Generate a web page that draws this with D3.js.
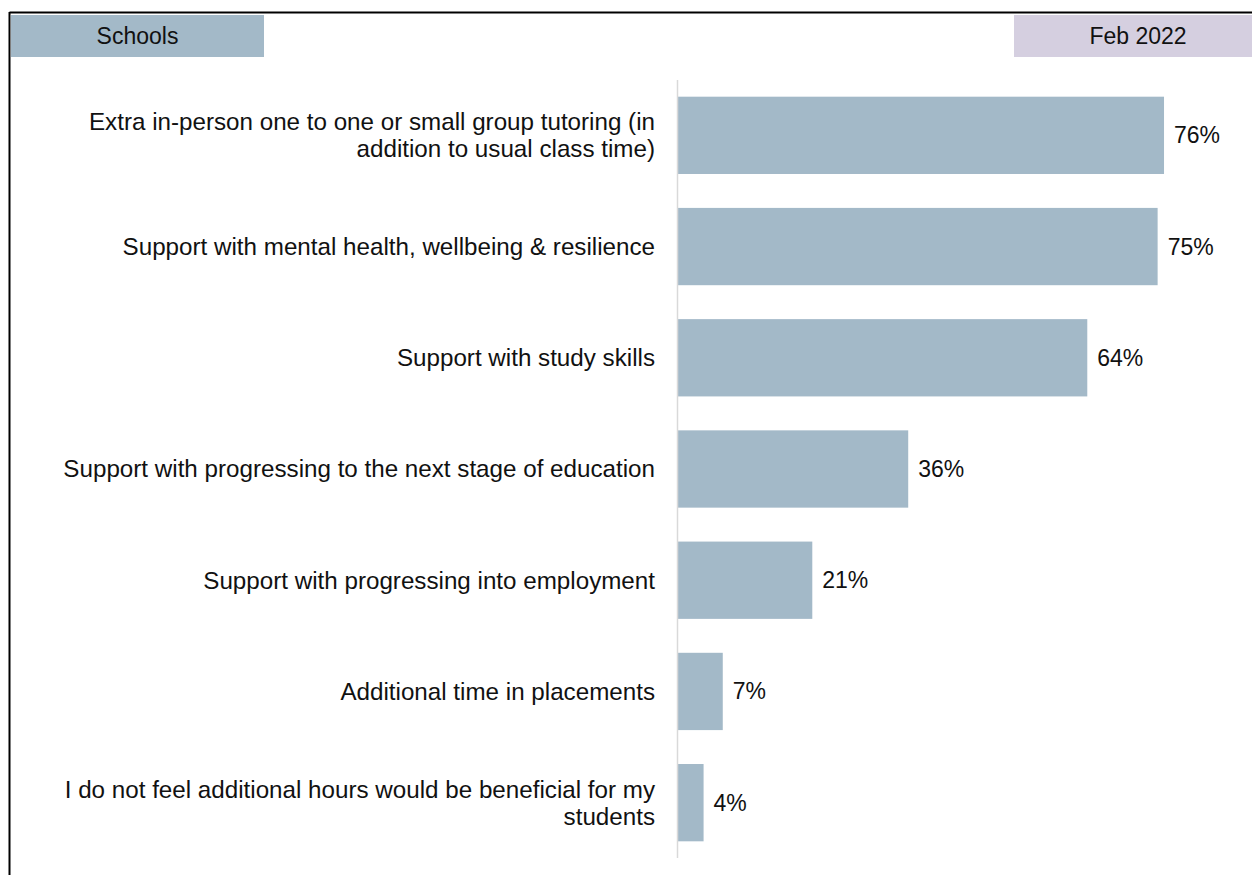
<!DOCTYPE html>
<html>
<head>
<meta charset="utf-8">
<script src="https://cdn.jsdelivr.net/npm/d3@7"></script>
<style>
  body { margin: 0; background: #fff; }
  text { font-family: "Liberation Sans", Arial, sans-serif; fill: #111; }
</style>
</head>
<body>
<div id="chart"></div>
<script>
const categories = [
    ["Extra in-person one to one or small group tutoring (in", "addition to usual class time)"],
    ["Support with mental health, wellbeing & resilience"],
    ["Support with study skills"],
    ["Support with progressing to the next stage of education"],
    ["Support with progressing into employment"],
    ["Additional time in placements"],
    ["I do not feel additional hours would be beneficial for my", "students"]
];
const values = [76, 75, 64, 36, 21, 7, 4];
const leftTag = "Schools";
const rightTag = "Feb 2022";

const width = 1252, height = 875;
const fs = "24.2px";

const svg = d3.select("#chart")
    .append("svg")
    .attr("width", width)
    .attr("height", height);

// frame lines (top and left)
svg.append("line")
    .attr("x1", 9.5).attr("x2", width).attr("y1", 12.5).attr("y2", 12.5)
    .style("stroke", "#000").style("stroke-width", 2);
svg.append("line")
    .attr("x1", 9.5).attr("x2", 9.5).attr("y1", 12).attr("y2", height)
    .style("stroke", "#000").style("stroke-width", 2);

// header tags
svg.append("rect").attr("x", 11).attr("y", 15).attr("width", 253).attr("height", 42)
    .style("fill", "#a3b9c8");
svg.append("text").attr("x", 137.5).attr("y", 36).attr("dy", "0.35em")
    .attr("text-anchor", "middle").style("font-size", "23px").text(leftTag);
svg.append("rect").attr("x", 1014).attr("y", 15).attr("width", 238).attr("height", 42)
    .style("fill", "#d5cfe0");
svg.append("text").attr("x", 1138).attr("y", 36).attr("dy", "0.35em")
    .attr("text-anchor", "middle").style("font-size", "23px").text(rightTag);

const x0 = 678;
const x = d3.scaleLinear()
    .domain([0, 100])
    .range([x0, x0 + 639.5]);

const y = d3.scaleBand()
    .domain(d3.range(values.length))
    .range([80, 858])
    .paddingInner(0.305)
    .paddingOuter(0.15);

// bars
svg.selectAll("rect.bar")
    .data(values)
    .join("rect")
    .attr("class", "bar")
    .attr("x", x(0))
    .attr("y", (d, i) => y(i))
    .attr("width", d => x(d) - x(0))
    .attr("height", y.bandwidth())
    .style("fill", "#a3b9c8");

// axis line
svg.append("line")
    .attr("x1", x0 - 0.5).attr("x2", x0 - 0.5)
    .attr("y1", 80).attr("y2", 858)
    .style("stroke", "#d9d9d9").style("stroke-width", 1.5);

// value labels
svg.selectAll("text.val")
    .data(values)
    .join("text")
    .attr("class", "val")
    .attr("x", d => x(d) + 10)
    .attr("y", (d, i) => y(i) + y.bandwidth() / 2)
    .attr("dy", "0.35em")
    .style("font-size", "23px")
    .text(d => d + "%");

// category labels
const lineH = 27;
const lab = svg.selectAll("text.cat")
    .data(categories)
    .join("text")
    .attr("class", "cat")
    .attr("text-anchor", "end")
    .style("font-size", fs)
    .attr("transform", (d, i) => `translate(655, ${y(i) + y.bandwidth() / 2})`);

lab.selectAll("tspan")
    .data(d => d.map((t, k) => ({t, k, n: d.length})))
    .join("tspan")
    .attr("x", 0)
    .attr("y", d => (d.k - (d.n - 1) / 2) * lineH)
    .attr("dy", "0.35em")
    .text(d => d.t);
</script>
</body>
</html>
